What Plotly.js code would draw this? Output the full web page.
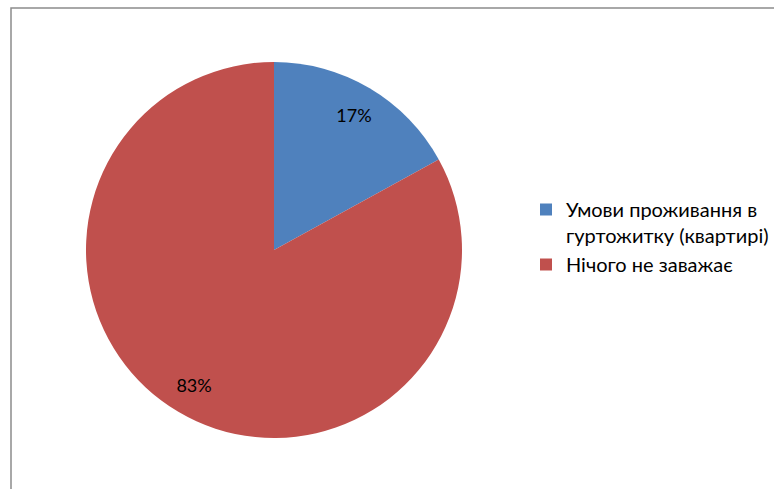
<!DOCTYPE html>
<html>
<head>
<meta charset="utf-8">
<script src="https://cdn.plot.ly/plotly-3.0.1.min.js"></script>
<style>
html,body{margin:0;padding:0;background:#fff;}
#chart{width:774px;height:489px;}
</style>
</head>
<body>
<div id="chart"></div>
<script>
var categories = ["Умови проживання в<br>гуртожитку (квартирі)", "Нічого не заважає"];
var values = [17, 83];
var sliceColors = ["#4F81BD", "#C0504D"];
var W = 774, H = 489;
var pieDomain = {x: [86 / W, 462 / W], y: [51 / H, 427 / H]};
var fontFam = "Lato, 'Noto Sans', sans-serif";

var pieTrace = {
  type: "pie",
  labels: categories,
  values: values,
  sort: false,
  direction: "clockwise",
  rotation: 0,
  marker: {colors: sliceColors, line: {width: 0}},
  textinfo: "none",
  domain: pieDomain,
  hoverinfo: "label+percent"
};

// transparent ring carrying the percentage labels near the outer edge
var labelTrace = {
  type: "pie",
  labels: categories,
  values: values,
  sort: false,
  direction: "clockwise",
  rotation: 0,
  hole: 0.67,
  showlegend: false,
  marker: {colors: ["rgba(0,0,0,0)", "rgba(0,0,0,0)"], line: {width: 0}},
  texttemplate: "%{percent:.0%}",
  textposition: "inside",
  insidetextorientation: "horizontal",
  textfont: {family: fontFam, size: 18, color: "#000"},
  domain: pieDomain,
  hoverinfo: "skip"
};

var layout = {
  width: W, height: H,
  margin: {l: 0, r: 0, t: 0, b: 0, autoexpand: false},
  paper_bgcolor: "#fff",
  showlegend: true,
  legend: {
    x: 526 / W, xanchor: "left",
    y: 1 - 190 / H, yanchor: "top",
    valign: "top",
    font: {family: fontFam, size: 20, color: "#000"},
    itemwidth: 30
  },
  shapes: [{
    type: "rect", xref: "paper", yref: "paper",
    x0: 11 / W, x1: 1.02, y0: -0.02, y1: 1 - 8 / H,
    line: {color: "#8c8c8c", width: 1.5}
  }]
};

Plotly.newPlot("chart", [pieTrace, labelTrace], layout, {displayModeBar: false, staticPlot: true});
</script>
</body>
</html>
